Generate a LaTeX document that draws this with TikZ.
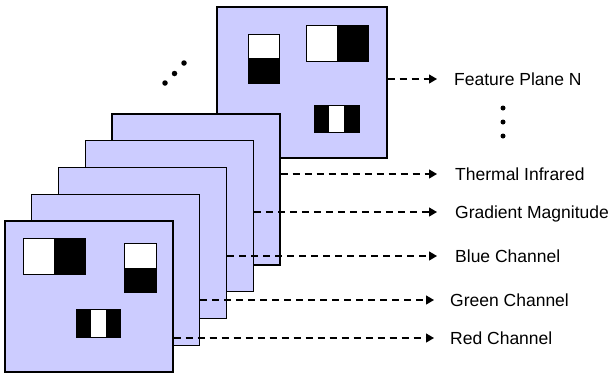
\documentclass[tikz,border=0pt]{standalone}
\usepackage{fontspec}
\setmainfont{Liberation Sans}
\usetikzlibrary{arrows.meta}
\definecolor{planefill}{RGB}{204,204,255}
\tikzset{
  plane/.style={draw=black, line width=1.3pt, fill=planefill, rectangle, inner sep=0pt,
    minimum width=168pt, minimum height=151pt},
  lbl/.style={anchor=west, inner xsep=0pt, inner ysep=0pt, text height=12.5pt, text depth=0pt,
    font=\fontsize{17.5pt}{20pt}\selectfont},
  feat/.style={draw=black, dash pattern=on 7pt off 5pt, line width=1.2pt,
    -{Triangle[length=8pt,width=9pt]}},
  wbox/.style={fill=white},
  bbox/.style={fill=black},
  obox/.style={draw=black, line width=0.8pt},
  dot/.style={fill=black, circle, inner sep=0pt, minimum size=5pt}
}
\begin{document}
\begin{tikzpicture}[x=1pt, y=-1pt]
\useasboundingbox (0,0) rectangle (612,373);
% planes, back to front
\node[plane, minimum width=170pt] (pN) at (302,82.5) {};
\node[plane] (p5) at (196,189.5) {};
\node[plane] (p4) at (169.25,216.25) {};
\node[plane] (p3) at (142.5,243) {};
\node[plane] (p2) at (115.75,269.75) {};
\node[plane] (p1) at (89,296.5) {};
% patterns on plane N
\fill[wbox] (248,34) rectangle (279,58);
\fill[bbox] (248,58) rectangle (279,83);
\draw[obox] (248,34) rectangle (279,83);
\fill[wbox] (306,25) rectangle (337,61);
\fill[bbox] (337,25) rectangle (368,61);
\draw[obox] (306,25) rectangle (368,61);
\fill[bbox] (314,105) rectangle (329,132);
\fill[wbox] (329,105) rectangle (344,132);
\fill[bbox] (344,105) rectangle (359,132);
\draw[obox] (314,105) rectangle (359,132);
% patterns on front plane
\fill[wbox] (23,238) rectangle (54,274);
\fill[bbox] (54,238) rectangle (85,274);
\draw[obox] (23,238) rectangle (85,274);
\fill[wbox] (124,243) rectangle (156,268);
\fill[bbox] (124,268) rectangle (156,292);
\draw[obox] (124,243) rectangle (156,292);
\fill[bbox] (76,309) rectangle (91,337);
\fill[wbox] (91,309) rectangle (106,337);
\fill[bbox] (106,309) rectangle (120,337);
\draw[obox] (76,309) rectangle (120,337);
% dots
\node[dot, minimum size=5.5pt] (d1) at (165,83) {};
\node[dot, minimum size=5.5pt] (d2) at (174.5,73.5) {};
\node[dot, minimum size=5.5pt] (d3) at (184,63) {};
\node[dot] (v1) at (503,108) {};
\node[dot] (v2) at (503,122) {};
\node[dot] (v3) at (503,136) {};
% labels
\node[lbl] (lN) at (454,79) {Feature Plane N};
\node[lbl] (l5) at (455,174) {Thermal Infrared};
\node[lbl] (l4) at (455,212) {Gradient Magnitude};
\node[lbl] (l3) at (455,256) {Blue Channel};
\node[lbl] (l2) at (450,300) {Green Channel};
\node[lbl] (l1) at (450,338) {Red Channel};
% arrows
\draw[feat] (pN.east |- lN.west) -- ([xshift=-17pt]lN.west);
\draw[feat] (p5.east |- l5.west) -- ([xshift=-18pt]l5.west);
\draw[feat] (p4.east |- l4.west) -- ([xshift=-18pt]l4.west);
\draw[feat] (p3.east |- l3.west) -- ([xshift=-18pt]l3.west);
\draw[feat] (p2.east |- l2.west) -- ([xshift=-16pt]l2.west);
\draw[feat] (p1.east |- l1.west) -- ([xshift=-16pt]l1.west);
\end{tikzpicture}
\end{document}
